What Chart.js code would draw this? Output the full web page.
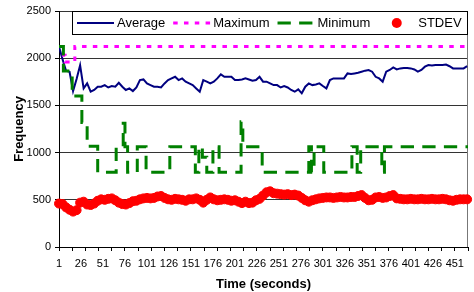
<!DOCTYPE html>
<html>
<head>
<meta charset="utf-8">
<script src="https://cdn.jsdelivr.net/npm/chart.js@4.4.0/dist/chart.umd.min.js"></script>
<style>
  html, body { margin: 0; padding: 0; background: #fff; }
  #chart { display: block; }
</style>
</head>
<body>
<canvas id="chart" width="474" height="292"></canvas>
<script>
// Sample times (seconds) for Average and STDEV
const seconds = [
  1, 5, 9, 13, 17, 21, 25, 29, 33, 37,
  41, 45, 49, 53, 57, 61, 65, 69, 73, 77,
  81, 85, 89, 93, 97, 101, 105, 109, 113, 117,
  121, 125, 129, 133, 137, 141, 145, 149, 153, 157,
  161, 165, 169, 173, 177, 181, 185, 189, 193, 197,
  201, 205, 209, 213, 217, 221, 225, 229, 233, 237,
  241, 245, 249, 253, 257, 261, 265, 269, 273, 277,
  281, 285, 289, 293, 297, 301, 305, 309, 313, 317,
  321, 325, 329, 333, 337, 341, 345, 349, 353, 357,
  361, 365, 369, 373, 377, 381, 385, 389, 393, 397,
  401, 405, 409, 413, 417, 421, 425, 429, 433, 437,
  441, 445, 449, 453, 457, 461, 465
]

const averageValues = [
  2124, 1990, 1867, 1857, 1652, 1780, 1925, 1680, 1733, 1645,
  1663, 1698, 1698, 1715, 1690, 1705, 1698, 1740, 1698, 1663,
  1680, 1652, 1690, 1768, 1775, 1733, 1715, 1698, 1698, 1690,
  1733, 1768, 1786, 1803, 1768, 1786, 1751, 1733, 1715, 1680,
  1645, 1768, 1751, 1733, 1751, 1786, 1828, 1803, 1803, 1803,
  1768, 1768, 1775, 1786, 1775, 1762, 1768, 1803, 1751, 1751,
  1733, 1715, 1715, 1690, 1705, 1690, 1663, 1645, 1670, 1628,
  1698, 1733, 1715, 1722, 1733, 1705, 1680, 1768, 1786, 1786,
  1786, 1786, 1839, 1832, 1839, 1846, 1857, 1868, 1875, 1857,
  1803, 1786, 1751, 1857, 1875, 1903, 1881, 1892, 1897, 1897,
  1892, 1881, 1857, 1875, 1910, 1927, 1922, 1928, 1928, 1928,
  1932, 1915, 1892, 1892, 1892, 1892, 1915
]

const stdevValues = [
  460, 455, 420, 395, 375, 390, 470, 480, 450, 445,
  460, 490, 505, 500, 510, 515, 495, 470, 455, 450,
  465, 485, 490, 505, 515, 520, 515, 520, 535, 540,
  520, 505, 500, 510, 505, 500, 490, 505, 505, 515,
  500, 470, 500, 525, 505, 495, 500, 505, 500, 490,
  495, 480, 465, 480, 465, 470, 495, 510, 545, 580,
  590, 570, 565, 560, 555, 560, 550, 555, 545, 520,
  495, 480, 495, 505, 515, 520, 525, 525, 520, 525,
  530, 525, 525, 530, 530, 540, 550, 520, 495, 500,
  525, 530, 520, 525, 540, 550, 515, 510, 505, 505,
  510, 505, 505, 510, 505, 505, 510, 505, 505, 510,
  505, 495, 490, 500, 505, 505, 505
]

// Maximum and Minimum only change at a few moments: times where a new value starts
const maxTimes = [1, 6, 8, 19, 466]
const maxValues = [2124, 2030, 1960, 2124, 2124]

const minTimes = [1, 6, 16, 27, 33, 45, 66, 74, 76, 79, 90, 100, 127, 156, 160, 164,
  169, 176, 183, 208, 210, 232, 285, 288, 291, 302, 334, 340, 344, 368, 371, 466]
const minValues = [2124, 1864, 1600, 1320, 1066, 791, 1062, 1310, 1062, 791, 1062, 791, 1062, 791, 1062, 950,
  791, 1062, 791, 1327, 1062, 791, 1062, 791, 1062, 791, 1062, 791, 1062, 791, 1062, 1062]

// Axis labels
const timeLabels = [1, 26, 51, 76, 101, 126, 151, 176, 201, 226, 251, 276, 301, 326, 351, 376, 401, 426, 451]
const lastSecond = 466
const tickMarks = []
for (let t = 1; t <= lastSecond; t += 15) tickMarks.push(t)

const FONT = '"Liberation Sans", Arial, sans-serif'
Chart.defaults.font.family = FONT
Chart.defaults.font.size = 11
Chart.defaults.color = "#000"

const toPoints = (xs, ys) => xs.map((x, i) => ({ x: x, y: ys[i] }))

// Legend drawn in a box inside the plot, like the original
const boxLegend = {
  id: "boxLegend",
  afterDraw(chart) {
    const { ctx, chartArea } = chart
    const sample = 37
    const gap = 3
    const spacing = 8
    const items = chart.data.datasets
    ctx.save()
    ctx.font = "13px " + FONT
    let width = 10
    items.forEach((ds, i) => {
      width += sample + gap + ctx.measureText(ds.label).width
      if (i < items.length - 1) width += spacing
    })
    const left = Math.round(chartArea.left + 13)
    const top = Math.round(chartArea.top)
    const height = 23
    ctx.fillStyle = "#fff"
    ctx.fillRect(left, top, width, height)
    ctx.strokeStyle = "#000"
    ctx.lineWidth = 1
    ctx.strokeRect(left + 0.5, top + 0.5, Math.round(width), height)

    let x = left + 5
    const y = top + height / 2 + 0.5
    items.forEach((ds) => {
      if (ds.showLine === false) {
        ctx.beginPath()
        ctx.fillStyle = ds.backgroundColor
        ctx.arc(x + sample / 2, y, ds.pointRadius + 0.5, 0, Math.PI * 2)
        ctx.fill()
      } else {
        ctx.beginPath()
        ctx.setLineDash(ds.borderDash || [])
        ctx.lineWidth = ds.borderWidth
        ctx.strokeStyle = ds.borderColor
        ctx.moveTo(x, y)
        ctx.lineTo(x + sample, y)
        ctx.stroke()
        ctx.setLineDash([])
      }
      ctx.fillStyle = "#000"
      ctx.textBaseline = "middle"
      ctx.textAlign = "left"
      ctx.fillText(ds.label, x + sample + gap, y)
      x += sample + gap + ctx.measureText(ds.label).width + spacing
    })
    ctx.restore()
  },
}

// Right edge of the plot area
const plotBorder = {
  id: "plotBorder",
  beforeDatasetsDraw(chart) {
    const { ctx, chartArea } = chart
    ctx.save()
    ctx.strokeStyle = "#777"
    ctx.lineWidth = 1
    ctx.beginPath()
    ctx.moveTo(chartArea.right - 0.5, chartArea.top)
    ctx.lineTo(chartArea.right - 0.5, chartArea.bottom)
    ctx.stroke()
    ctx.restore()
  },
}

new Chart(document.getElementById("chart"), {
  type: "line",
  data: {
    datasets: [
      {
        label: "Average",
        data: toPoints(seconds, averageValues),
        borderColor: "#000080",
        borderWidth: 2,
        pointRadius: 0,
        order: 4,
      },
      {
        label: "Maximum",
        data: toPoints(maxTimes, maxValues),
        borderColor: "#ff00ff",
        borderWidth: 3,
        borderDash: [4.5, 6.3],
        stepped: true,
        pointRadius: 0,
        order: 3,
      },
      {
        label: "Minimum",
        data: toPoints(minTimes, minValues),
        borderColor: "#008000",
        borderWidth: 3,
        borderDash: [13.3, 8.3],
        stepped: true,
        pointRadius: 0,
        order: 2,
      },
      {
        label: "STDEV",
        data: toPoints(seconds, stdevValues),
        showLine: false,
        backgroundColor: "#ff0000",
        borderColor: "#ff0000",
        pointRadius: 4.5,
        pointBorderWidth: 1,
        clip: 6,
        order: 1,
      },
    ],
  },
  options: {
    responsive: false,
    animation: false,
    events: [],
    layout: { padding: { top: 11, right: 1, left: 0, bottom: 0 } },
    plugins: {
      legend: { display: false },
      tooltip: { enabled: false },
    },
    scales: {
      x: {
        type: "linear",
        min: 1,
        max: lastSecond,
        afterBuildTicks: (axis) => {
          const values = [...new Set([...timeLabels, ...tickMarks])].sort((a, b) => a - b)
          axis.ticks = values.map((v) => ({ value: v }))
        },
        afterFit: (scale) => {
          scale.height = 45
        },
        ticks: {
          autoSkip: false,
          maxRotation: 0,
          padding: 6,
          callback: (value) => (timeLabels.includes(value) ? String(value) : ""),
        },
        grid: {
          drawOnChartArea: false,
          tickLength: 4,
          tickColor: (ctx) => (ctx.tick && tickMarks.includes(ctx.tick.value) ? "#000" : "rgba(0,0,0,0)"),
        },
        border: { color: "#000", width: 1 },
        title: {
          display: true,
          text: "Time (seconds)",
          font: { size: 13, weight: "bold" },
          padding: { top: 0, bottom: 0 },
        },
      },
      y: {
        min: 0,
        max: 2500,
        afterFit: (scale) => {
          scale.width = 59
        },
        ticks: {
          stepSize: 500,
          padding: 4,
          callback: (value) => String(value),
        },
        grid: {
          color: "#333",
          tickColor: "#000",
          tickLength: 4,
        },
        border: { color: "#000", width: 1 },
        title: {
          display: true,
          text: "Frequency",
          font: { size: 13, weight: "bold" },
          padding: { top: 12, bottom: 0 },
        },
      },
    },
  },
  plugins: [plotBorder, boxLegend],
})
</script>
</body>
</html>
